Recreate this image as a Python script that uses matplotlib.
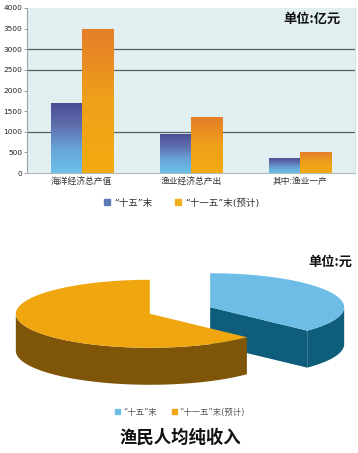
import numpy as np
import matplotlib
matplotlib.use("Agg")
import matplotlib.pyplot as plt
from matplotlib.patches import Polygon, Patch
from matplotlib.colors import LinearSegmentedColormap

plt.rcParams['font.family'] = ['Noto Sans CJK SC', 'DejaVu Sans']
mixed = ['DejaVu Sans', 'Noto Sans CJK SC']  # narrow quotes, CJK from Noto

# bar chart data (亿元)
categories = ["海洋经济总产值", "渔业经济总产出", "其中:渔业一产"]
series_names = ["“十五”末", "“十一五”末(预计)"]
values_15 = [1700, 950, 370]
values_115 = [3500, 1350, 500]
y_ticks = [0, 500, 1000, 1500, 2000, 2500, 3000, 3500, 4000]
grid_lines = [1000, 2500, 3000]

# pie chart data (元)
pie_values = [5900, 10000]
pie_names = ["“十五”末", "“十一五”末(预计)"]

fig = plt.figure(figsize=(3.58, 4.53), dpi=100)

# ---- bar chart ----
ax = fig.add_axes([27 / 358, 1 - 173 / 453, 328 / 358, 165 / 453])
ax.set_facecolor("#e1eff0")

blue_cmap = LinearSegmentedColormap.from_list("b", ["#6cc0ea", "#67a6d8", "#5f6fae", "#4a4c92"])
orange_cmap = LinearSegmentedColormap.from_list("o", ["#f3ab10", "#eea01a", "#e57d2a"])

x = np.arange(len(categories))
w = 0.285
bars1 = ax.bar(x - w / 2, values_15, w, color="none", zorder=3)
bars2 = ax.bar(x + w / 2, values_115, w, color="none", zorder=3)
grad = np.linspace(0, 1, 256).reshape(-1, 1)
for bars, cmap in [(bars1, blue_cmap), (bars2, orange_cmap)]:
    for b in bars:
        x0, y0 = b.get_x(), b.get_y()
        im = ax.imshow(grad, cmap=cmap, origin="lower", aspect="auto",
                       extent=[x0, x0 + b.get_width(), y0, y0 + b.get_height()], zorder=3)
        im.set_clip_path(b)
ax.set_xlim(-0.5, 2.5)
ax.set_ylim(0, 4000)

for g in grid_lines:
    ax.axhline(g, color="#555f5f", lw=0.9, zorder=2)

ax.set_yticks(y_ticks)
ax.set_yticklabels([str(v) for v in y_ticks], fontsize=5.3, color="#222222", family="DejaVu Sans")
ax.set_xticks(x)
ax.set_xticklabels(categories, fontsize=6.3, color="#333333")
ax.tick_params(axis="y", length=2, width=0.6, color="#888888", pad=1.5)
ax.tick_params(axis="x", length=0, pad=3)
ax.spines["top"].set_visible(False)
ax.spines["left"].set_color("#9aa6a6")
ax.spines["left"].set_linewidth(0.8)
ax.spines["bottom"].set_color("#b0baba")
ax.spines["bottom"].set_linewidth(0.8)
ax.spines["right"].set_color("#d4e0e0")
ax.text(0.955, 0.935, "单位:亿元", transform=ax.transAxes, ha="right", va="center",
        fontsize=9.5, fontweight="bold", color="#111111", zorder=5)

fig.legend(handles=[Patch(color="#5d78b6"), Patch(color="#f2b01e")], labels=series_names,
           loc="center", bbox_to_anchor=(182 / 358, 1 - 203 / 453), ncol=2, frameon=False,
           prop={"family": mixed, "size": 6.8}, handlelength=0.6, handleheight=0.6,
           handletextpad=0.5, columnspacing=2.4, labelcolor="#333333")

# ---- 3D exploded pie ----
ax2 = fig.add_axes([0, 1 - 400 / 453, 1, 160 / 453])
ax2.set_xlim(0, 358)
ax2.set_ylim(400, 240)
ax2.axis("off")

cx, cy, rx, ry, depth, explode = 180, 310.5, 134, 34, 37, 0.245
top_colors = ["#6dbde6", "#f0a60e"]
side_colors = ["#0e5d7b", "#7e5509"]


def pt(c, t, dz=0):
    return (c[0] + rx * np.cos(t), c[1] - ry * np.sin(t) + dz)


fracs = np.array(pie_values) / sum(pie_values)
edges = np.radians(90 - 360 * np.concatenate([[0], np.cumsum(fracs)]))
slices = []
for i in range(len(fracs)):
    t1, t2 = edges[i], edges[i + 1]
    mid = (t1 + t2) / 2
    c = (cx + explode * rx * np.cos(mid), cy - explode * ry * np.sin(mid))
    slices.append((np.sin(mid), i, t1, t2, c))
slices.sort(reverse=True)

for _, i, t1, t2, c in slices:
    # visible cut faces
    for t, vis in [(t2, np.cos(t2) > 1e-6), (t1, np.cos(t1) < -1e-6)]:
        if vis:
            p = pt(c, t)
            ax2.add_patch(Polygon([c, p, (p[0], p[1] + depth), (c[0], c[1] + depth)],
                                  closed=True, fc=side_colors[i], lw=0))
    # outer wall on the front half
    for k in range(-2, 2):
        a, b = max(t2, -np.pi + 2 * np.pi * k), min(t1, 2 * np.pi * k)
        if b > a:
            ts = np.linspace(a, b, 100)
            toparc = [pt(c, t) for t in ts]
            botarc = [pt(c, t, depth) for t in ts[::-1]]
            ax2.add_patch(Polygon(toparc + botarc, closed=True, fc=side_colors[i], lw=0))
    ts = np.linspace(t2, t1, 200)
    ax2.add_patch(Polygon([c] + [pt(c, t) for t in ts], closed=True, fc=top_colors[i], lw=0))

ax2.text(352, 262, "单位:元", ha="right", va="center", fontsize=9.5,
         fontweight="bold", color="#111111")

fig.legend(handles=[Patch(color=top_colors[0]), Patch(color=top_colors[1])], labels=pie_names,
           loc="center", bbox_to_anchor=(180 / 358, 1 - 412 / 453), ncol=2, frameon=False,
           prop={"family": mixed, "size": 6}, handlelength=0.6, handleheight=0.6,
           handletextpad=0.3, columnspacing=1.8, labelcolor="#555555")

fig.text(180 / 358, 1 - 438 / 453, "渔民人均纯收入", ha="center", va="center",
         fontsize=12.5, fontweight="bold", color="#111111")

fig.savefig("out.png", dpi=100)
